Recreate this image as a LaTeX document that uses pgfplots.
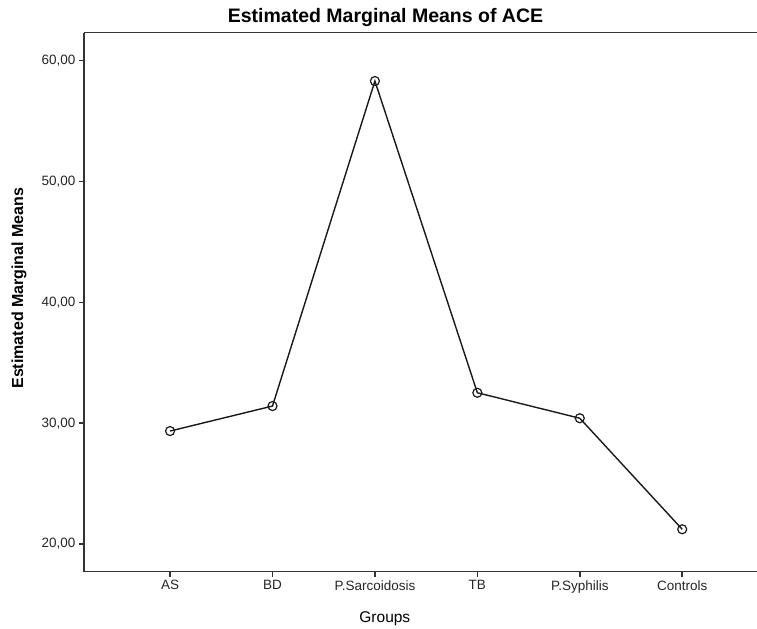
\documentclass[border=0pt]{standalone}
\usepackage{fontspec}
\setmainfont{Liberation Sans}
\usepackage{pgfplots}
\pgfplotsset{compat=1.18}
\usetikzlibrary{calc}
\definecolor{axgray}{HTML}{333333}
\begin{document}
\begin{tikzpicture}
\begin{axis}[
  name=ax,
  scale only axis,
  width=673bp, height=539bp,
  xmin=-0.84, xmax=5.73,
  ymin=17.71, ymax=62.32,
  clip=false,
  axis x line*=bottom, axis y line*=left,
  axis line style={line width=1.5bp, color=axgray},
  tick style={line width=1.5bp, color=axgray},
  tick align=outside,
  major tick length=5bp,
  xtick={0,1,2,3,4,5},
  xticklabels={AS,BD,P.Sarcoidosis,TB,P.Syphilis,Controls},
  ytick={20,30,40,50,60},
  yticklabel style={/pgf/number format/.cd, fixed, fixed zerofill, precision=2, use comma, assume math mode=true},
  ticklabel style={font=\fontsize{13.5bp}{16bp}\selectfont, text=black!85},
  title={Estimated Marginal Means of ACE},
  title style={at={(axis description cs:0.448,1.0087)}, anchor=base, inner sep=0pt, font=\bfseries\fontsize{19.5bp}{22bp}\selectfont},
  xlabel={Groups},
  xlabel style={at={(axis description cs:0.447,-0.087)}, anchor=center, inner sep=0pt, font=\fontsize{15.5bp}{18bp}\selectfont},
  ylabel={Estimated Marginal Means},
  ylabel style={at={(axis description cs:-0.0966,0.526)}, anchor=center, inner sep=0pt, font=\bfseries\fontsize{16bp}{19bp}\selectfont},
]
\addplot[line width=1.4bp, color=black!90, mark=o, mark size=4.5bp, mark options={line width=1.2bp, fill=none}]
  coordinates {(0,29.35) (1,31.42) (2,58.32) (3,32.52) (4,30.41) (5,21.22)};
\draw[line width=1.5bp, color=axgray] (rel axis cs:0,1) -- (rel axis cs:1,1);
\end{axis}
\pgfresetboundingbox
\path ($(ax.south west)+(-84bp,-57.3bp)$) rectangle ($(ax.north east)+(0bp,32.7bp)$);
\end{tikzpicture}
\end{document}
